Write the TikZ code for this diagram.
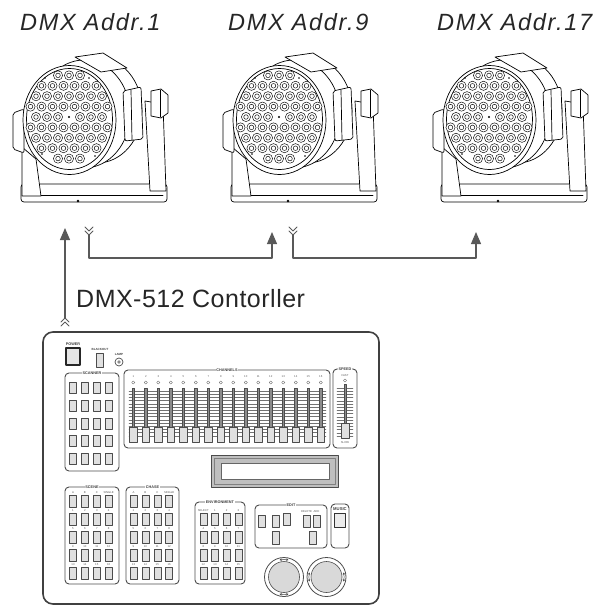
\documentclass[tikz,border=0pt]{standalone}
\usepackage{fontspec}
\setsansfont{Liberation Sans}
\usepackage{tikz}
\usetikzlibrary{arrows.meta}
\usetikzlibrary{calc}

\tikzset{
  lamp/.style={draw=black, line width=0.7pt, line join=round},
  wire/.style={draw=black!65, line width=1.1pt},
  addr/.style={anchor=base west, inner sep=0pt, text=black!85,
    font=\sffamily\itshape\fontsize{23.5}{27}\selectfont\addfontfeature{LetterSpace=7}},
  box/.style={draw=black!70, line width=0.9pt, rounded corners=4pt},
  btn/.style={draw=black!70, fill=black!12, line width=0.6pt},
  tiny/.style={inner sep=0.5pt, text=black!75,
    font=\sffamily\bfseries\fontsize{3.8}{4.2}\selectfont},
  ttl/.style={tiny, fill=white},
  lbl/.style={inner sep=0pt, text=black!65,
    font=\sffamily\fontsize{2.8}{3}\selectfont},
  led/.pic={
    \draw[lamp, line width=0.45pt, fill=white] (0,0) circle (4.6);
    \draw[lamp, line width=0.45pt] (0,0) circle (2.3);
  },
  dchev/.pic={
    \draw[wire, line width=1pt] (-4,0) -- (0,4) -- (4,0) (-4,4) -- (0,8) -- (4,4);
  },
  parlight/.pic={
    % base and left leg
    \draw[lamp, fill=white, rounded corners=3pt] (-48,67) rectangle (98,85);
    \draw[lamp] (-44,78) -- (94,78);
    \fill (9,84) circle (1.4);
    \draw[lamp, fill=white] (-47,30) -- (-47,79) -- (-28,79) -- (-33,42) -- cycle;
    % housing
    \draw[lamp, fill=white] (28,-7) ellipse [x radius=45, y radius=53];
    \draw[lamp, fill=white] (15,-3) ellipse [x radius=46, y radius=54];
    \draw[lamp, fill=white] (6,-60) -- (34,-64) -- (58,-49) -- (32,-45) -- cycle;
    \draw[lamp, fill=white, rounded corners=2pt] (54,-26) -- (72,-30) -- (74,22) -- (56,24) -- cycle;
    \draw[lamp] (62,-27) -- (63,23);
    % right leg and knob
    \draw[lamp, fill=white] (76,-16) -- (94,-13) -- (97,74) -- (81,74) -- cycle;
    \draw[lamp, fill=white] (82,-26) -- (92,-28) -- (99,-22) -- (99,-4) -- (92,1) -- (82,-1) -- cycle;
    \draw[lamp] (91,-27) -- (91,0);
    % clip on the left
    \draw[lamp, fill=white, rounded corners=2pt] (-56,-4) -- (-45,-8) -- (-45,36) -- (-56,32) -- cycle;
    % front bezel
    \draw[lamp, fill=white] (0.5,3) ellipse [x radius=46.5, y radius=54.5];
    \draw[lamp] (0.5,2) ellipse [x radius=43, y radius=50.5];
    % 54 leds
    \foreach \n/\yy in {3/-41.6,6/-31.2,7/-20.8,8/-10.4,8/10.4,7/20.8,6/31.2,3/41.6}
      \foreach \i in {1,...,\n}
        \pic at ({(\i-(\n+1)/2)*11},\yy) {led};
    \foreach \xx in {-33,-22,-11,11,22,33}
      \pic at (\xx,0) {led};
    \fill (0,0) circle (1.1);
    \foreach \p in {(-24,-39),(20,-39),(-27,37),(26,39)}
      \fill \p circle (0.9);
  }
}

\begin{document}
\begin{tikzpicture}[x=1pt, y=-1pt, line cap=round, line join=round,
  >={Triangle[length=12pt,width=10pt]}]
\useasboundingbox (0,0) rectangle (601,606);

% the three lights
\node[addr] (addr1) at (20,30) {DMX Addr.1};
\node[addr] (addr9) at (228,30) {DMX Addr.9};
\node[addr] (addr17) at (437,30) {DMX Addr.17};
\pic at (69,117) {parlight};
\pic at (279,117) {parlight};
\pic at (489,117) {parlight};

% dmx line
\coordinate (up1) at (65,318);
\coordinate (in1) at (65,228);
\coordinate (out1) at (89,235);
\coordinate (in2) at (272,232);
\coordinate (out2) at (293,235);
\coordinate (in3) at (476,232);
\draw[wire,->] (up1) -- (in1);
\pic[rotate=180] at (65,326) {dchev};
\pic at (89,227) {dchev};
\pic at (293,227) {dchev};
\draw[wire,->] (out1) -- ++(0,23) -| (in2);
\draw[wire,->] (out2) -- ++(0,23) -| (in3);
\node[anchor=base west, inner sep=0pt, text=black!85,
  font=\sffamily\fontsize{25}{30}\selectfont\addfontfeature{LetterSpace=2}] (ctrl) at (76,307) {DMX-512 Contorller};

% controller
\draw[draw=black!75, line width=1.6pt, rounded corners=10pt] (43,332) rectangle (379,604);
\node[tiny] (power) at (73,344) {POWER};
\draw[draw=black!85, fill=black!10, line width=1.3pt] (66,348) rectangle (80,365);
\node[tiny, font=\sffamily\bfseries\fontsize{3}{3.4}\selectfont] (blackout) at (100,349) {BLACKOUT};
\draw[btn, line width=0.9pt] (96,353) rectangle (103,367);
\node[tiny, font=\sffamily\bfseries\fontsize{3}{3.4}\selectfont] (lamp) at (119,354) {LAMP};
\draw[draw=black!70, fill=white, line width=0.7pt] (119,362) circle (4);
\fill[black!45] (119,362) circle (1.8);

% scanner
\draw[box] (65,373) rectangle (119,471);
\node[ttl] (scanner) at (92,373) {SCANNER};
\foreach \r in {0,...,4}
  \foreach \c in {0,...,3}
    \draw[btn] ({73+11.8*\c-3.5},{382+17.9*\r}) rectangle +(7,11);

% channels
\draw[box] (124,370) rectangle (330,448);
\foreach \t in {0,...,14}
  \draw[black!55, line width=0.35pt] (129,{391+3.2*\t}) -- (326,{391+3.2*\t});
\foreach \k in {1,...,16} {
  \node[lbl] (ch\k) at ({133.3+12.5*(\k-1)},376.5) {\k};
  \draw[black!60, line width=0.4pt] ({133.3+12.5*(\k-1)},382.5) circle (1.6);
  \draw[black!70, fill=black!45, line width=0.4pt] ({133.3+12.5*(\k-1)-1.2},388) rectangle +(2.4,48);
  \draw[btn] ({133.3+12.5*(\k-1)-3.6},427) rectangle +(7.2,15);
}
\node[ttl] (channels) at (227,370) {CHANNELS};

% speed
\draw[box] (333,369) rectangle (357,448);
\foreach \t in {0,...,15}
  \draw[black!55, line width=0.35pt] (337,{388+3.2*\t}) -- (353,{388+3.2*\t});
\draw[black!70, fill=black!45, line width=0.4pt] (343.8,384) rectangle (346.2,438);
\draw[btn] (341,423) rectangle (349,438);
\node[ttl] (speed) at (345,369) {SPEED};
\node[lbl] (fast) at (345,375.5) {FAST};
\draw[black!60, line width=0.4pt] (345,380.5) circle (1.6);
\node[lbl] (slow) at (345,443) {SLOW};

% display
\draw[draw=black!70, fill=black!25, line width=0.9pt] (211,455) rectangle (338,487);
\draw[draw=black!50, line width=0.4pt] (214,458) rectangle (335,484);
\draw[draw=black!60, fill=white, line width=0.6pt] (221,463) rectangle (329,479);

% scene and chase
\draw[box] (65,487) rectangle (119,584);
\node[ttl] (scene) at (92,487) {SCENE};
\draw[box] (126,487) rectangle (179,584);
\node[ttl] (chase) at (152.5,487) {CHASE};
\foreach \r/\la/\lb/\lc/\ld in {0/A/B/C/SINGLE,1/1/2/3/4,2/5/6/7/8,3/9/10/11/12,4/13/14/15/16} {
  \foreach \xs/\g in {73/s,133.5/h} {
    \foreach \c/\l in {0/\la,1/\lb,2/\lc,3/\ld} {
      \draw[btn] ({\xs+11.9*\c-3.5},{495+18*\r}) rectangle +(7,12);
      \node[lbl] (\g-\r-\c) at ({\xs+11.9*\c},{492.5+18*\r}) {\l};
    }
  }
}

% environment
\draw[box] (195,502) rectangle (245,584);
\node[ttl] (environment) at (220,502) {ENVIRONMENT};
\foreach \r/\la/\lb/\lc/\ld in {0/SELECT/1/2/3,1/4/5/6/7,2/8/9/10/11,3/12/13/14/15}
  \foreach \c/\l in {0/\la,1/\lb,2/\lc,3/\ld} {
    \draw[btn] ({203.3+11.7*\c-3.5},{513.5+18*\r}) rectangle +(7,12);
    \node[lbl] (e-\r-\c) at ({203.3+11.7*\c},{510.5+18*\r}) {\l};
  }

% edit
\draw[box] (255,505) rectangle (327,548);
\node[ttl] (edit) at (291,505) {EDIT};
\draw[btn] (258,515) rectangle (265,527);
\draw[btn] (272,515) rectangle (279,527);
\draw[btn] (283,513) rectangle (290,525);
\draw[btn] (303,515) rectangle (310,527);
\draw[btn] (313,515) rectangle (320,527);
\draw[btn] (272,531) rectangle (279,544);
\draw[btn] (309,531) rectangle (316,544);
\node[lbl] (delete) at (306.5,511.5) {DELETE};
\node[lbl] (add) at (316.5,511.5) {ADD};

% music
\draw[box] (331,504) rectangle (349,548);
\node[tiny, font=\sffamily\bfseries\fontsize{4.2}{4.6}\selectfont] (music) at (340,509) {MUSIC};
\draw[draw=black!80, fill=black!8, line width=1pt] (334,513) rectangle (345,527);

% jog wheels
\foreach \cx/\a in {284/90,326.5/0} {
  \draw[draw=black!70, fill=white, line width=0.8pt] (\cx,577) circle (19.5);
  \draw[draw=black!70, fill=black!15, line width=0.6pt] (\cx,577) circle (15.5);
  \foreach \b in {\a,\a+180}
    \draw[black!70, line width=0.5pt, {Stealth[length=2.5pt,width=2.5pt]}-{Stealth[length=2.5pt,width=2.5pt]}]
      ($(\cx,577)+({\b-15}:17.5)$) arc[start angle={\b-15}, end angle={\b+15}, radius=17.5];
}
\end{tikzpicture}
\end{document}
